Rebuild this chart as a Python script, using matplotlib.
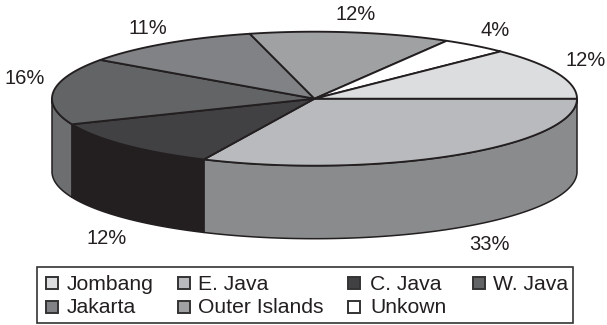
import numpy as np
import matplotlib
matplotlib.use("Agg")
import matplotlib.pyplot as plt
from matplotlib.patches import Polygon, Rectangle

plt.rcParams["font.family"] = ["Liberation Sans", "DejaVu Sans"]

categories = ["Jombang", "E. Java", "C. Java", "W. Java", "Jakarta", "Outer Islands", "Unkown"]
shares = [12, 33, 12, 16, 11, 12, 4]
top_colors = ["#dcddde", "#b9babd", "#414042", "#636466", "#808285", "#a0a1a3", "#ffffff"]
side_colors = ["#dcddde", "#8a8b8d", "#231f20", "#6d6e70", "#808285", "#a0a1a3", "#ffffff"]

CX, CY, RX, RY, DEPTH = 314.5, 98.7, 262.5, 67.0, 73.0
FORESHORTEN = 4.5  # degrees of perspective shift on the far side of the disc
EDGE = "#231f20"

fig = plt.figure(figsize=(6.07, 3.25), dpi=100)
ax = fig.add_axes([0, 0, 1, 1])
ax.set_xlim(0, 607)
ax.set_ylim(325, 0)
ax.axis("off")


def projected(a):
    # Slice angle on the page after the disc's perspective tilt.
    return a - FORESHORTEN * np.sin(np.radians(a) / 2)


def rim(a0, a1, dy=0.0):
    t = np.radians(np.linspace(a0, a1, max(int(abs(a1 - a0)) * 2, 2)))
    return np.column_stack([CX + RX * np.cos(t), CY + dy + RY * np.sin(t)])


# Slice spans, measured clockwise on the page from 3 o'clock; Jombang closes the circle.
order = [1, 2, 3, 4, 5, 6, 0]
angle = 0.0
spans = {}
for i in order:
    sweep = shares[i] * 3.6
    spans[i] = (projected(angle), projected(angle + sweep))
    angle += sweep

# Side wall of the disc: only the front half (0 to 180 degrees) is visible.
for i in order:
    a0, a1 = max(spans[i][0], 0), min(spans[i][1], 180)
    if a1 <= a0:
        continue
    wall = np.vstack([rim(a0, a1), rim(a1, a0, DEPTH)])
    ax.add_patch(Polygon(wall, closed=True, facecolor=side_colors[i], edgecolor=EDGE, lw=1.1, joinstyle="round"))

# Top face of the disc.
for i in order:
    a0, a1 = spans[i]
    face = np.vstack([[CX, CY], rim(a0, a1)])
    ax.add_patch(Polygon(face, closed=True, facecolor=top_colors[i], edgecolor=EDGE, lw=1.35, joinstyle="round"))

# Percentage labels placed around the disc.
label_xy = {0: (586, 60), 1: (489, 245), 2: (107, 239), 3: (25, 78), 4: (148, 28), 5: (356, 14), 6: (495, 30)}
for i, (x, y) in label_xy.items():
    ax.text(x, y, f"{shares[i]}%", fontsize=14.5, color="#231f20", ha="center", va="center")

# Legend box drawn by hand so the columns keep their uneven spacing.
ax.add_patch(Rectangle((36.5, 267), 536, 55.5, facecolor="white", edgecolor="#333333", lw=1.2))
col_swatch = [46, 178, 347.5, 472.5]
col_text = [66.5, 197.5, 370.5, 493]
row_swatch = [283.3, 306.5]
row_base = [290.3, 313.4]
layout = [(0, 0), (0, 1), (0, 2), (0, 3), (1, 0), (1, 1), (1, 2)]
for i, (r, c) in enumerate(layout):
    ax.add_patch(Rectangle((col_swatch[c], row_swatch[r] - 6), 12, 12, facecolor=top_colors[i], edgecolor="#333333", lw=1.4))
    ax.text(col_text[c], row_base[r], categories[i], fontsize=15.2, color="#231f20", ha="left", va="baseline")

fig.savefig("out.png", dpi=100)
